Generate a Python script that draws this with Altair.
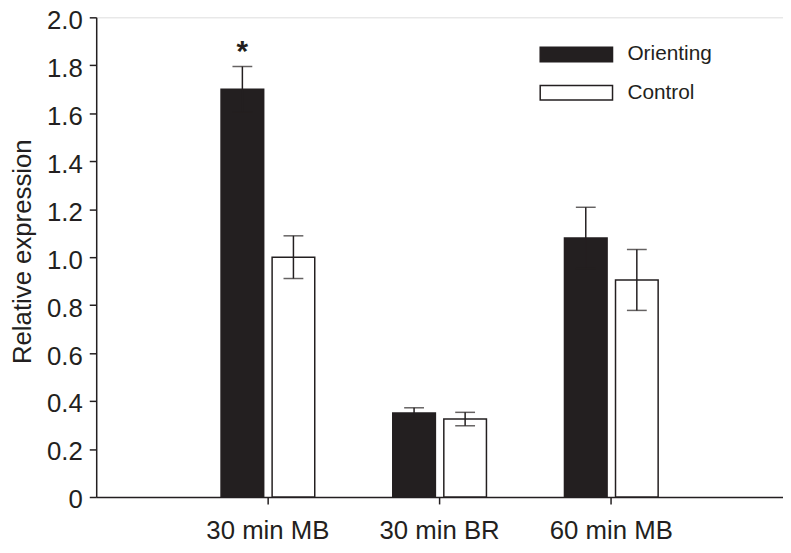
import altair as alt
import pandas as pd

# ---- data ----
categories = ["30 min MB", "30 min BR", "60 min MB"]
series = ["Orienting", "Control"]
orienting = [1.70, 0.35, 1.08]
orienting_err = [0.095, 0.022, 0.128]
control = [1.00, 0.325, 0.905]
control_err = [0.089, 0.028, 0.127]
y_ticks = [0.0, 0.2, 0.4, 0.6, 0.8, 1.0, 1.2, 1.4, 1.6, 1.8, 2.0]
sig_category = "30 min MB"
sig_series = "Orienting"
sig_label = "*"

DARK = "#231f20"
FONT = "Liberation Sans"

rows = []
for i, c in enumerate(categories):
    rows.append(dict(cat=c, series="Orienting", value=orienting[i], err=orienting_err[i]))
    rows.append(dict(cat=c, series="Control", value=control[i], err=control_err[i]))
df = pd.DataFrame(rows)
df["lo"] = df["value"] - df["err"]
df["hi"] = df["value"] + df["err"]

sig = df[(df["cat"] == sig_category) & (df["series"] == sig_series)].copy()
sig["label"] = sig_label

x_enc = alt.X(
    "cat:N",
    sort=categories,
    scale=alt.Scale(paddingInner=0, paddingOuter=0.5),
    axis=alt.Axis(
        title=None, labelAngle=0, labelFontSize=26, labelColor=DARK,
        tickSize=7, tickWidth=1.5, tickColor=DARK, domainColor=DARK,
        domainWidth=1.5, labelPadding=14, grid=False, labelFont=FONT,
    ),
)
xo_enc = alt.XOffset(
    "series:N", sort=series,
    scale=alt.Scale(paddingInner=0.165, paddingOuter=0.764),
)
y_scale = alt.Scale(domain=[0, 2], nice=False, zero=True)

bars = alt.Chart(df).mark_bar(stroke=DARK, strokeWidth=1.5).encode(
    x=x_enc,
    xOffset=xo_enc,
    y=alt.Y(
        "value:Q",
        scale=y_scale,
        axis=alt.Axis(
            values=y_ticks,
            labelExpr="datum.value == 0 ? '0' : format(datum.value, '.1f')",
            title="Relative expression", titleFontSize=26, titleFontWeight="normal",
            titleColor=DARK, titleFont=FONT, titlePadding=11, titleY=236,
            labelFontSize=26, labelColor=DARK, labelFont=FONT, labelOffset=3,
            tickSize=7, tickWidth=1.5, tickColor=DARK,
            domainColor=DARK, domainWidth=1.5, labelPadding=7, grid=False,
        ),
    ),
    color=alt.Color(
        "series:N",
        sort=series,
        scale=alt.Scale(domain=series, range=[DARK, "white"]),
        legend=alt.Legend(
            title=None, orient="none", legendX=474, legendY=27,
            symbolType="M-5,-1H5V1H-5Z", symbolSize=213,
            symbolStrokeColor=DARK, symbolStrokeWidth=1.5, symbolOpacity=1,
            labelFontSize=21, labelFont=FONT, labelColor=DARK, labelOffset=41,
            rowPadding=16.5, padding=0,
        ),
    ),
)

rules = alt.Chart(df).mark_rule(color=DARK, strokeWidth=1.5).encode(
    x=alt.X("cat:N", sort=categories),
    xOffset=alt.XOffset("series:N", sort=series),
    y=alt.Y("lo:Q", scale=y_scale),
    y2="hi:Q",
)
cap_hi = alt.Chart(df).mark_tick(color=DARK, size=20, thickness=1.5, orient="horizontal").encode(
    x=alt.X("cat:N", sort=categories),
    xOffset=alt.XOffset("series:N", sort=series),
    y=alt.Y("hi:Q", scale=y_scale),
)
cap_lo = alt.Chart(df).mark_tick(color=DARK, size=20, thickness=1.5, orient="horizontal").encode(
    x=alt.X("cat:N", sort=categories),
    xOffset=alt.XOffset("series:N", sort=series),
    y=alt.Y("lo:Q", scale=y_scale),
)
star = alt.Chart(sig).mark_text(
    color=DARK, fontSize=30, fontWeight="bold", font=FONT, baseline="alphabetic", dy=-6
).encode(
    x=alt.X("cat:N", sort=categories),
    xOffset=alt.XOffset("series:N", sort=series),
    y=alt.Y("hi:Q", scale=y_scale),
    text="label:N",
)

chart = (
    alt.layer(bars, rules, cap_hi, cap_lo, star)
    .properties(
        width=693, height=484,
        autosize=alt.AutoSizeParams(type="none"),
        padding={"left": 89, "top": 7, "right": 0, "bottom": 45},
        background="white",
    )
    .configure_view(strokeWidth=0)
    .configure(font=FONT)
)

chart.save("out.html", embed_options={"renderer": "svg", "actions": False})
